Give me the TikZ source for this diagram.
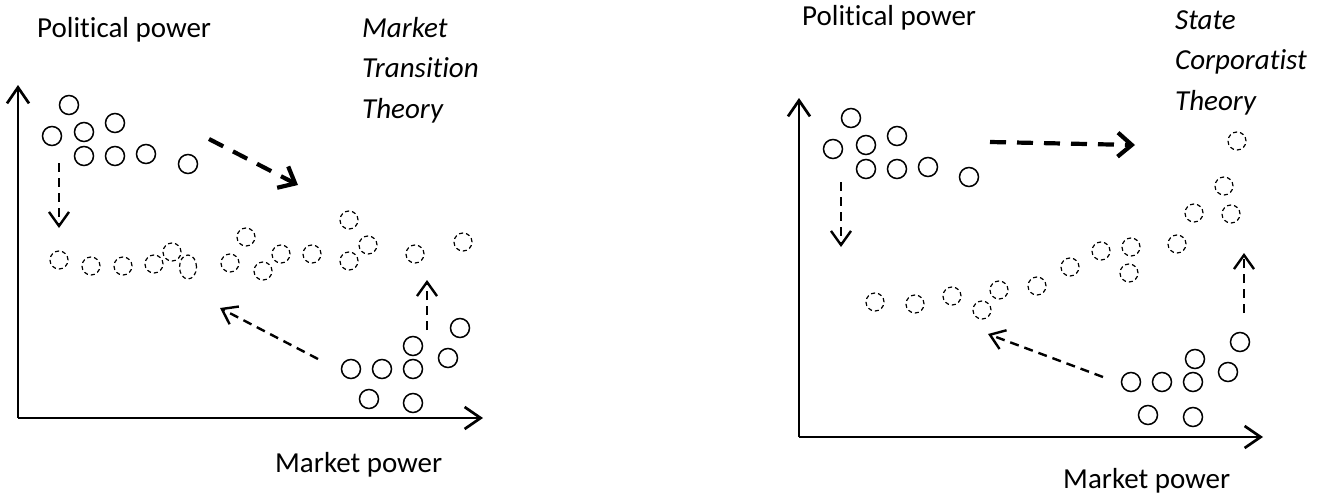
\documentclass[tikz,border=0pt]{standalone}
\usepackage{fontspec}
\setmainfont{Carlito}[Ligatures=NoCommon]
\usetikzlibrary{arrows.meta,shapes.geometric}
\begin{document}
\begin{tikzpicture}[x=1pt,y=-1pt,
  lbl/.style={font=\fontsize{29}{35}\selectfont, inner sep=0pt, anchor=base west},
  ital/.style={font=\fontsize{29}{35}\selectfont\itshape, inner sep=0pt, anchor=base west},
  solidpt/.style={circle, draw, line width=1.5pt, minimum size=19pt, inner sep=0pt},
  dashpt/.style={circle, draw, line width=1.2pt, dash pattern=on 4pt off 3pt, minimum size=18pt, inner sep=0pt},
  axisline/.style={line width=2.7pt, -{Straight Barb[length=16pt,width=22pt]}},
  flowarrow/.style={line width=2.4pt, dash pattern=on 9pt off 6pt, -{Straight Barb[length=14pt,width=20pt]}},
  bigflow/.style={line width=4.2pt, dash pattern=on 16pt off 11pt, -{Straight Barb[length=14pt,width=24pt]}},
]
\useasboundingbox (0,0) rectangle (1318,498);

% ---------- left panel: market transition ----------
\coordinate (LO) at (18,418);
\coordinate (LY) at (18,85);
\coordinate (LX) at (483,418);
\draw[axisline] (LO) -- (LY);
\draw[axisline] (LO) -- (LX);

\node[lbl] (lpol) at (37,37) {Political power};
\node[lbl] (lmkt) at (275,472) {Market power};
\node[ital] (lt1) at (362,37) {Market};
\node[ital] (lt2) at (362,77.5) {Transition};
\node[ital] (lt3) at (362,118) {Theory};

\foreach [count=\i] \p in {(69,105),(52,136),(84,132),(115,123),(84,156),(115,156),(146,154),(188,164)}
  \node[solidpt] (la\i) at \p {};
\foreach [count=\i] \p in {(351,369),(382,369),(413,369),(413,346),(448,358),(460,328),(369,399),(413,403)}
  \node[solidpt] (lb\i) at \p {};
\foreach [count=\i] \p in {(59,260),(91,266),(123,266),(154,264),(172,252),(230,263),(246,237),(263,271),(281,254),(312,254),(349,220),(349,261),(368,245),(415,254),(463,242)}
  \node[dashpt] (lc\i) at \p {};
\node[dashpt, ellipse, minimum width=17pt, minimum height=24pt] (lc0) at (188,267) {};

\coordinate (l1s) at (209,139); \coordinate (l1e) at (298,185);
\coordinate (l2s) at (59,163);  \coordinate (l2e) at (59,228);
\coordinate (l3s) at (427,330); \coordinate (l3e) at (427,280);
\coordinate (l4s) at (318,359); \coordinate (l4e) at (220,308);
\draw[bigflow] (l1s) -- (l1e);
\draw[flowarrow] (l2s) -- (l2e);
\draw[flowarrow] (l3s) -- (l3e);
\draw[flowarrow] (l4s) -- (l4e);

% ---------- right panel: state corporatism ----------
\coordinate (RO) at (799,437);
\coordinate (RY) at (799,98);
\coordinate (RX) at (1263,437);
\draw[axisline] (RO) -- (RY);
\draw[axisline] (RO) -- (RX);

\node[lbl] (rpol) at (802,25) {Political power};
\node[lbl] (rmkt) at (1063,488) {Market power};
\node[ital] (rt1) at (1175,29) {State};
\node[ital] (rt2) at (1175,69) {Corporatist};
\node[ital] (rt3) at (1175,110) {Theory};

\foreach [count=\i] \p in {(851,118),(833,149),(866,145),(897,136),(866,169),(897,169),(928,167),(969,177)}
  \node[solidpt] (ra\i) at \p {};
\foreach [count=\i] \p in {(1131,382),(1162,382),(1193,382),(1195,359),(1228,372),(1240,342),(1148,415),(1193,417)}
  \node[solidpt] (rb\i) at \p {};
\foreach [count=\i] \p in {(875,302),(915,304),(952,296),(982,310),(999,290),(1037,286),(1070,267),(1101,251),(1131,247),(1129,273),(1177,244),(1194,213),(1224,186),(1231,214),(1237,141)}
  \node[dashpt] (rc\i) at \p {};

\coordinate (r1s) at (990,142);  \coordinate (r1e) at (1135,145);
\coordinate (r2s) at (841,182);  \coordinate (r2e) at (841,247);
\coordinate (r3s) at (1244,313); \coordinate (r3e) at (1244,253);
\coordinate (r4s) at (1103,377); \coordinate (r4e) at (988,334);
\draw[bigflow] (r1s) -- (r1e);
\draw[flowarrow] (r2s) -- (r2e);
\draw[flowarrow] (r3s) -- (r3e);
\draw[flowarrow] (r4s) -- (r4e);
\end{tikzpicture}
\end{document}
